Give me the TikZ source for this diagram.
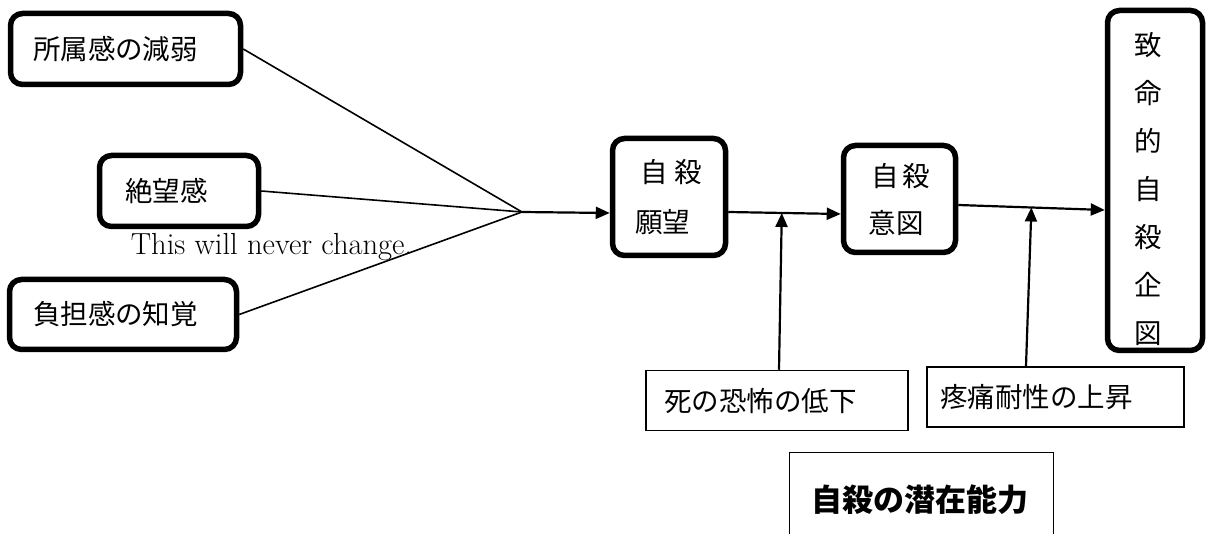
\documentclass[tikz,border=0pt]{standalone}
\usepackage{fontspec}
\newfontfamily\cjk{Noto Sans CJK JP}
\usetikzlibrary{arrows.meta,calc}
\tikzset{
  thickbox/.style={draw, line width=5.5pt, rounded corners=12pt},
  thinbox/.style={draw, line width=1.5pt},
  jtext/.style={font=\cjk\fontsize{27.5}{33}\selectfont},
  conn/.style={line width=1.6pt},
  arr/.style={line width=2.2pt, -{Triangle[length=14pt,width=12pt]}},
}
\begin{document}
\begin{tikzpicture}[x=1pt,y=-1pt]
\useasboundingbox (0,0) rectangle (1211,534);
\clip (0,0) rectangle (1211,534);

% left boxes
\node[thickbox, jtext, minimum height=71pt, text width=185pt, inner xsep=22.5pt, align=left] (belong) at (125.5,49) {所属感の減弱};
\node[thickbox, jtext, minimum height=71pt, text width=108pt, inner xsep=25.5pt, align=left] (hope) at (179,191) {絶望感};
\node[thickbox, jtext, minimum height=70pt, text width=180pt, inner xsep=23.5pt, align=left] (burden) at (123,314.5) {負担感の知覚};

\node[font=\fontsize{30.5}{36}\selectfont, anchor=base, inner sep=0pt] (note) at (271.5,255) {This will never change.};

% central boxes
\node[thickbox, font=\cjk\fontsize{27.5}{50}\selectfont, minimum height=117pt, text width=68pt, inner xsep=22.5pt, align=left] (desire) at (669,197) {\hspace{5pt}自\hspace{7pt}殺\\願望};
\node[thickbox, font=\cjk\fontsize{27.5}{47}\selectfont, minimum height=107pt, text width=62pt, inner xsep=25pt, align=left] (intent) at (899.5,199) {\hspace{3pt}自\hspace{4pt}殺\\意図};

\node[thickbox, minimum width=95pt, minimum height=340pt] (lethal) at (1155,180.5) {};
\node[font=\cjk\fontsize{27.5}{48}\selectfont, align=center, inner sep=0pt] (lethaltxt) at (1148,189.5) {致\\命\\的\\自\\殺\\企\\図};

% lower boxes
\node[thinbox, jtext, minimum height=60pt, text width=226pt, inner xsep=18pt, align=left] (fear) at (777,400.5) {死の恐怖の低下};
\node[thinbox, jtext, minimum height=60pt, text width=231pt, inner xsep=13pt, align=left] (pain) at (1055.5,397) {疼痛耐性の上昇};
\node[thinbox, minimum width=264pt, minimum height=94.5pt] (capab) at (921.5,500) {};
\node[font=\cjk\bfseries\fontsize{31}{36}\selectfont, inner sep=0pt] (capabtxt) at (920,500) {自殺の潜在能力};

% junction
\coordinate (j) at (522,212);
\draw[conn] (belong.east) -- (j);
\draw[conn] (hope.east) -- (j);
\draw[conn] (burden.east) -- (j);
\draw[arr] (j) -- ([yshift=-16pt]desire.west);

\coordinate (dE) at ([yshift=-15pt]desire.east);
\coordinate (iW) at ([yshift=-15pt]intent.west);
\coordinate (iE) at ([yshift=-6pt]intent.east);
\coordinate (lW) at ([yshift=-29.5pt]lethal.west);
\draw[arr] (dE) -- (iW);
\draw[arr] (iE) -- (lW);

\coordinate (fN) at ([xshift=2pt]fear.north);
\coordinate (pN) at ([xshift=-29.5pt]pain.north);
\draw[arr] (fN) -- ($(dE)!(fN)!(iW)$);
\draw[arr] (pN) -- ($(iE)!(pN)!(lW)$);
\end{tikzpicture}
\end{document}
